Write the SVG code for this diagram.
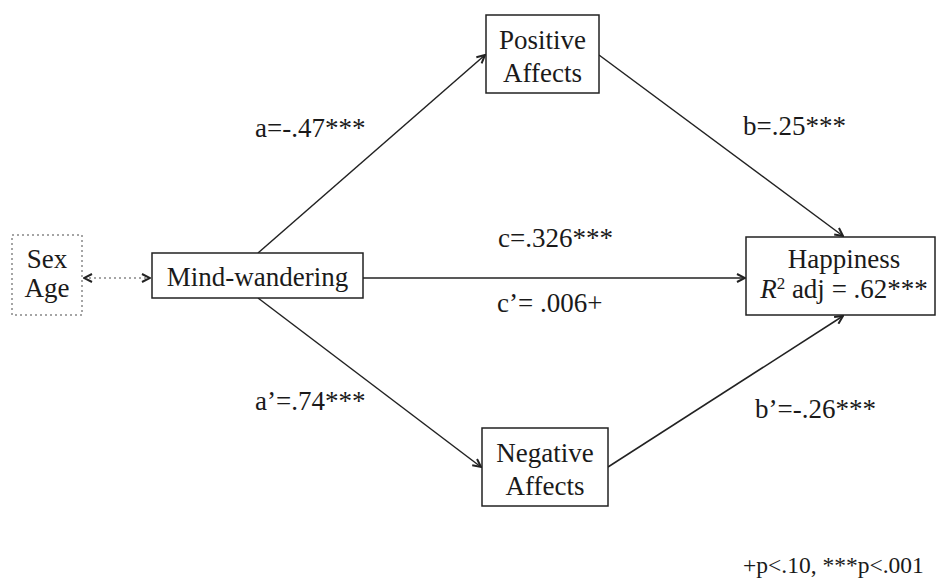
<svg xmlns="http://www.w3.org/2000/svg" width="938" height="586" viewBox="0 0 938 586">
<style>
text{font-family:"Liberation Serif","Times New Roman",serif;font-size:27px;fill:#1a1a1a}
text.note{font-size:23.5px}
.box{fill:#fff;stroke:#222;stroke-width:1.5}
.dot{fill:#fff;stroke:#888;stroke-width:1.5;stroke-dasharray:2 3}
.ln{stroke:#222;stroke-width:1.5;fill:none}
.dl{stroke:#888;stroke-width:1.5;stroke-dasharray:2 3;fill:none}
</style>
<defs>
<marker id="ah" viewBox="0 0 10 10" refX="9" refY="5" markerWidth="10" markerHeight="10" markerUnits="userSpaceOnUse" orient="auto-start-reverse">
<path d="M1,1 L9,5 L1,9" fill="none" stroke="#222" stroke-width="2"/>
</marker>
</defs>
<g id="connectors">
<line class="dl" x1="84" y1="278" x2="150" y2="278" marker-start="url(#ah)" marker-end="url(#ah)"/>
<line class="ln" x1="363" y1="278" x2="745" y2="278" marker-end="url(#ah)"/>
<line class="ln" x1="258" y1="253" x2="485" y2="55" marker-end="url(#ah)"/>
<line class="ln" x1="599" y1="55" x2="843" y2="236" marker-end="url(#ah)"/>
<line class="ln" x1="258" y1="298" x2="481" y2="467" marker-end="url(#ah)"/>
<line class="ln" x1="608" y1="467" x2="843" y2="316" marker-end="url(#ah)"/>
</g>
<g id="covariates">
<rect class="dot" x="12" y="235" width="70" height="80"/>
<text x="47" y="268" text-anchor="middle">Sex</text>
<text x="47" y="297" text-anchor="middle">Age</text>
</g>
<g id="mind-wandering">
<rect class="box" x="152" y="253" width="211" height="45"/>
<text x="257.5" y="286" text-anchor="middle">Mind-wandering</text>
</g>
<g id="positive-affects">
<rect class="box" x="486" y="15" width="113" height="78"/>
<text x="542.5" y="49" text-anchor="middle">Positive</text>
<text x="542.5" y="82" text-anchor="middle">Affects</text>
</g>
<g id="negative-affects">
<rect class="box" x="482" y="428" width="126" height="78"/>
<text x="545" y="462" text-anchor="middle">Negative</text>
<text x="545" y="495" text-anchor="middle">Affects</text>
</g>
<g id="happiness">
<rect class="box" x="746" y="237" width="189" height="78"/>
<text x="844" y="268" text-anchor="middle">Happiness</text>
<text x="844" y="298" text-anchor="middle"><tspan font-style="italic">R</tspan><tspan font-size="17" dy="-9">2</tspan><tspan dy="9"> adj = .62***</tspan></text>
</g>
<g id="labels">
<text x="255" y="137">a=-.47***</text>
<text x="743" y="135">b=.25***</text>
<text x="498" y="247">c=.326***</text>
<text x="497" y="312">c’= .006+</text>
<text x="255" y="410">a’=.74***</text>
<text x="755" y="418">b’=-.26***</text>
<text class="note" x="743" y="573">+p&lt;.10, ***p&lt;.001</text>
</g>
</svg>
